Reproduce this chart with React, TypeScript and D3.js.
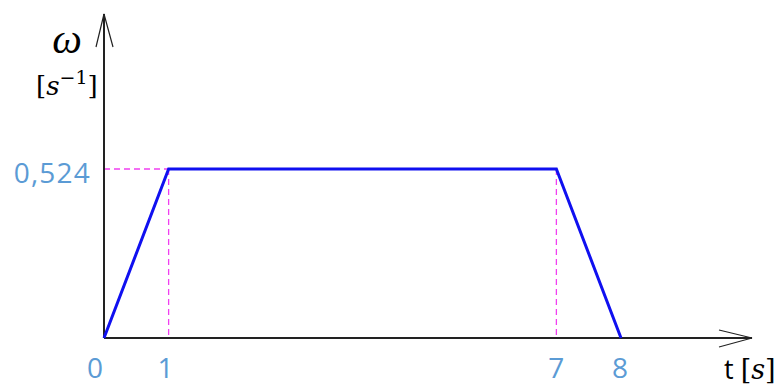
import React from "react";
import * as d3 from "d3";

const times = [0, 1, 7, 8];
const omega = [0, 0.524, 0.524, 0];
const xTicks = [0, 1, 7, 8];
const yTickValue = 0.524;
const yTickLabel = "0,524";

const W = 776;
const H = 387;

export default function App() {
  const x = d3.scaleLinear().domain([0, 8]).range([104, 621]);
  const y = d3.scaleLinear().domain([0, 0.524]).range([338, 169]);

  const pts = times.map((t, i) => [x(t), y(omega[i])] as [number, number]);
  const line = d3.line();

  const x0 = x(0);
  const y0 = y(0);
  const yTop = 14;
  const xEnd = 752;
  const labelColor = "#5B9BD5";
  const axisColor = "#222";
  const labelFont = "'Open Sans', 'Liberation Sans', sans-serif";
  const tickShift: Record<number, number> = { 0: -9, 1: -3, 7: 0, 8: -1 };

  return (
    <svg width={W} height={H} style={{ position: "absolute", left: 0, top: 0, background: "#fff" }}>
      {/* dashed guides */}
      <line x1={x0} y1={y(yTickValue)} x2={x(1)} y2={y(yTickValue)} stroke="#F040F0" strokeWidth={1.3} strokeDasharray="6,4" />
      {[1, 7].map((t) => (
        <line key={t} x1={x(t)} y1={y(yTickValue)} x2={x(t)} y2={y0} stroke="#F040F0" strokeWidth={1.3} strokeDasharray="6,4" />
      ))}
      {/* axes */}
      <line x1={x0} y1={y0} x2={x0} y2={yTop} stroke={axisColor} strokeWidth={2} />
      <path d={`M${x0 - 8},${yTop + 33} L${x0},${yTop} L${x0 + 9},${yTop + 33}`} fill="none" stroke={axisColor} strokeWidth={1.2} />
      <line x1={x0} y1={y0} x2={xEnd} y2={y0} stroke={axisColor} strokeWidth={2} />
      <path d={`M${xEnd - 33},${y0 - 8} L${xEnd},${y0} L${xEnd - 33},${y0 + 9}`} fill="none" stroke={axisColor} strokeWidth={1.2} />
      {/* data */}
      <path d={line(pts) || ""} fill="none" stroke="#1010F0" strokeWidth={3} strokeLinejoin="miter" />
      {/* x tick labels */}
      {xTicks.map((t) => (
        <text key={t} x={x(t) + tickShift[t]} y={378} textAnchor="middle" fill={labelColor}
          style={{ fontFamily: labelFont, fontSize: 28 }}>{t}</text>
      ))}
      {/* y tick label */}
      <text x={91} y={183} textAnchor="end" fill={labelColor}
        style={{ fontFamily: labelFont, fontSize: 28, letterSpacing: 1.2 }}>{yTickLabel}</text>
      {/* y axis title */}
      <text x={67} y={53} textAnchor="middle" fill="#000"
        style={{ fontFamily: "'Liberation Serif', serif", fontStyle: "italic", fontSize: 42 }}>ω</text>
      <text x={36} y={95} fill="#000" style={{ fontFamily: "'DejaVu Serif', serif", fontSize: 26 }}>
        <tspan>[</tspan>
        <tspan fontStyle="italic">s</tspan>
        <tspan dy={-11} fontSize={19}>−1</tspan>
        <tspan dy={11}>]</tspan>
      </text>
      {/* x axis title */}
      <text x={724} y={379} fill="#000" style={{ fontFamily: "'DejaVu Serif', serif", fontSize: 27 }}>
        <tspan style={{ fontFamily: labelFont }}>t </tspan>
        <tspan>[</tspan>
        <tspan fontStyle="italic">s</tspan>
        <tspan>]</tspan>
      </text>
    </svg>
  );
}
